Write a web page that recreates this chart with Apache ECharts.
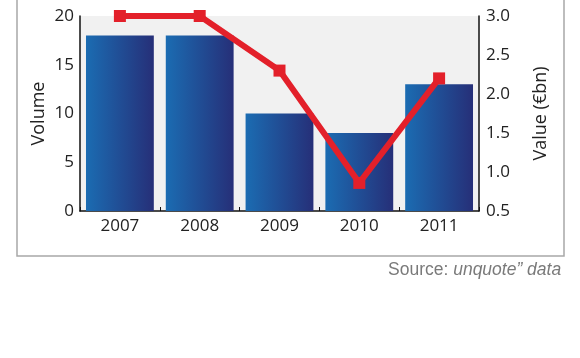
<!DOCTYPE html>
<html><head><meta charset="utf-8">
<script src="https://cdn.jsdelivr.net/npm/echarts@6/dist/echarts.min.js"></script>
<style>html,body{margin:0;padding:0;background:#fff}#c{width:580px;height:358px}</style>
</head><body><div id="c"></div>
<script>
const years = ['2007','2008','2009','2010','2011'];
const volume = [18, 18, 10, 8, 13];
const valueBn = [3.0, 3.0, 2.3, 0.86, 2.2];
const leftTicks = {min: 0, max: 20, interval: 5};
const rightTicks = {min: 0.5, max: 3.0, interval: 0.5};

const chart = echarts.init(document.getElementById('c'), null, {renderer: 'canvas'});
const font = '"Open Sans", sans-serif';
chart.setOption({
  animation: false,
  backgroundColor: '#fff',
  grid: {left: 80, right: 101, top: 16, bottom: 147, show: true, backgroundColor: '#f1f1f1', borderWidth: 0},
  graphic: [
    {type: 'rect', shape: {x: 17, y: -10, width: 547, height: 266},
     style: {fill: 'none', stroke: '#a8a8a8', lineWidth: 1.5}, z: -1},
    {type: 'text', left: 388, top: 261,
     style: {text: '{n|Source: }{i|unquote” data}', rich: {
       n: {fontFamily: '"Liberation Sans", sans-serif', fontSize: 17.5, fill: '#7a7a7a'},
       i: {fontFamily: '"Liberation Sans", sans-serif', fontSize: 17.5, fontStyle: 'italic', fill: '#7a7a7a'}
     }}}
  ],
  xAxis: {
    type: 'category', data: years,
    axisLine: {show: true, lineStyle: {color: '#111', width: 1.5}},
    axisTick: {show: true, inside: true, length: 4, lineStyle: {color: '#111'}},
    axisLabel: {color: '#222', fontSize: 17, fontFamily: font, margin: 7}
  },
  yAxis: [
    {type: 'value', min: leftTicks.min, max: leftTicks.max, interval: leftTicks.interval,
     name: 'Volume', nameLocation: 'middle', nameGap: 32, nameRotate: 90, nameMoveOverlap: false,
     nameTextStyle: {color: '#222', fontSize: 18, fontFamily: font},
     axisLine: {show: true, lineStyle: {color: '#111', width: 1.5}},
     axisTick: {show: false}, splitLine: {show: false},
     axisLabel: {color: '#222', fontSize: 17, fontFamily: font, margin: 6}},
    {type: 'value', min: rightTicks.min, max: rightTicks.max, interval: rightTicks.interval,
     name: 'Value (€bn)', nameLocation: 'middle', nameGap: 53, nameRotate: 90, nameMoveOverlap: false,
     nameTextStyle: {color: '#222', fontSize: 18, fontFamily: font},
     axisLine: {show: true, lineStyle: {color: '#111', width: 1.5}},
     axisTick: {show: false}, splitLine: {show: false},
     axisLabel: {color: '#222', fontSize: 17, fontFamily: font, margin: 7,
       formatter: v => v.toFixed(1)}}
  ],
  series: [
    {type: 'bar', data: volume, yAxisIndex: 0, barWidth: '85%',
     itemStyle: {color: new echarts.graphic.LinearGradient(0, 0, 1, 0, [
       {offset: 0, color: '#1b6cb2'}, {offset: 1, color: '#262f78'}])}},
    {type: 'line', data: valueBn, yAxisIndex: 1, symbol: 'rect', symbolSize: 12,
     lineStyle: {color: '#e3202a', width: 6}, itemStyle: {color: '#e3202a'}, z: 5}
  ]
});
</script></body></html>
